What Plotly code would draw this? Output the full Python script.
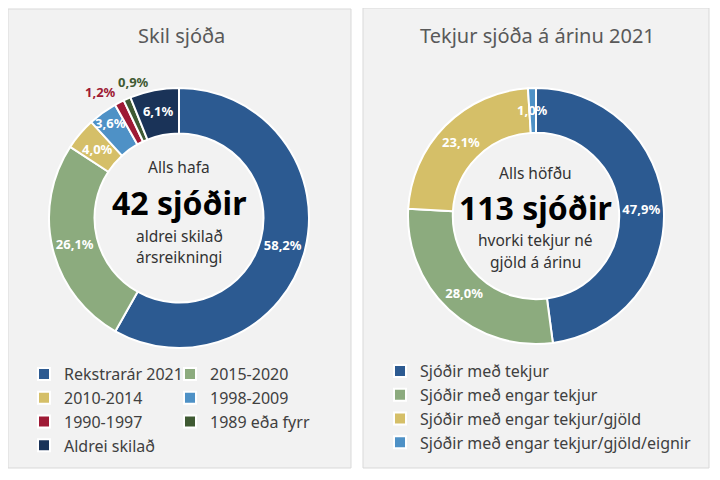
import math
import plotly.graph_objects as go

# the page body has an 8px margin, so the figure is drawn 8px in from the window corner
OFF = 8
W, H = 704, 464
ML = 37  # left margin, leaves room for the left legend to sit left of the plot area

FONT = "Noto Sans"

skil_labels = ["Rekstrarár 2021", "2015-2020", "2010-2014", "1998-2009",
               "1990-1997", "1989 eða fyrr", "Aldrei skilað"]
skil_values = [58.2, 26.1, 4.0, 3.6, 1.2, 0.9, 6.1]
skil_colors = ["#2c5a91", "#8cab7e", "#d5bf68", "#4e91c6",
               "#9e1a35", "#3f5a33", "#1a3358"]
skil_textpos = ["inside", "inside", "none", "inside", "none", "none", "inside"]

tekjur_labels = ["Sjóðir með tekjur", "Sjóðir með engar tekjur",
                 "Sjóðir með engar tekjur/gjöld",
                 "Sjóðir með engar tekjur/gjöld/eignir"]
tekjur_values = [47.9, 28.0, 23.1, 1.0]
tekjur_colors = ["#2c5a91", "#8cab7e", "#d5bf68", "#4e91c6"]
tekjur_textpos = ["inside", "inside", "inside", "none"]

# donut geometry in window pixels
SKIL_C, SKIL_R = (179, 218), 130
TEKJUR_C, TEKJUR_R = (536, 216), 128
HOLE = 0.65


def px_x(x):
    return (x - OFF - ML) / (W - ML)


def px_y(y):
    return (H - (y - OFF)) / H


def dominio(c, r):
    cx, cy = c
    return dict(x=[px_x(cx - r), px_x(cx + r)], y=[px_y(cy + r), px_y(cy - r)])


def punktur(values, i, c, r):
    # mid angle of slice i, clockwise from 12 o'clock
    a = (sum(values[:i]) + values[i] / 2) / sum(values) * 2 * math.pi
    return c[0] + r * math.sin(a), c[1] - r * math.cos(a)


def prosenta(v):
    return f"{v:.1f}%".replace(".", ",")


def texti(x, y, txt, size=15.5, color="#333333", bold=False, **kw):
    d = dict(
        x=px_x(x), y=px_y(y), xref="paper", yref="paper",
        text=txt, showarrow=False, xanchor="center", yanchor="middle",
        font=dict(family=FONT, size=size, color=color,
                  weight="bold" if bold else "normal"),
    )
    d.update(kw)
    return d


fig = go.Figure()

fig.add_trace(go.Pie(
    labels=skil_labels,
    values=skil_values,
    marker=dict(colors=skil_colors, line=dict(color="white", width=2)),
    hole=HOLE,
    sort=False,
    direction="clockwise",
    rotation=0,
    texttemplate="%{value:.1f}%",
    textposition=skil_textpos,
    insidetextorientation="horizontal",
    insidetextfont=dict(family=FONT, size=13, color="white", weight="bold"),
    domain=dominio(SKIL_C, SKIL_R),
    legend="legend",
    automargin=False,
))

fig.add_trace(go.Pie(
    labels=tekjur_labels,
    values=tekjur_values,
    marker=dict(colors=tekjur_colors, line=dict(color="white", width=2)),
    hole=HOLE,
    sort=False,
    direction="clockwise",
    rotation=0,
    texttemplate="%{value:.1f}%",
    textposition=tekjur_textpos,
    insidetextorientation="horizontal",
    insidetextfont=dict(family=FONT, size=13, color="white", weight="bold"),
    domain=dominio(TEKJUR_C, TEKJUR_R),
    legend="legend2",
    automargin=False,
))

# labels for the thin slices, placed from the slice angles
mid_skil = SKIL_R * (1 + HOLE) / 2
mid_tekjur = TEKJUR_R * (1 + HOLE) / 2
litlir = []
x, y = punktur(skil_values, 2, SKIL_C, mid_skil)
litlir.append(texti(x, y, prosenta(skil_values[2]), size=13, color="white", bold=True))
x, y = punktur(skil_values, 4, SKIL_C, SKIL_R)
litlir.append(texti(x, y, prosenta(skil_values[4]), size=13, color=skil_colors[4],
                    bold=True, xanchor="right", yanchor="bottom", xshift=-1))
x, y = punktur(skil_values, 5, SKIL_C, SKIL_R)
litlir.append(texti(x, y, prosenta(skil_values[5]), size=13, color=skil_colors[5],
                    bold=True, yanchor="bottom", xshift=6, yshift=6))
x, y = punktur(tekjur_values, 3, TEKJUR_C, mid_tekjur)
litlir.append(texti(x, y, prosenta(tekjur_values[3]), size=13, color="white", bold=True))

panel = dict(type="rect", xref="paper", yref="paper", layer="below",
             fillcolor="#f2f2f2", line=dict(color="#d9d9d9", width=1))

fig.update_layout(
    width=W,
    height=H,
    margin=dict(l=ML, r=0, t=0, b=0, autoexpand=False),
    paper_bgcolor="white",
    plot_bgcolor="white",
    separators=",.",
    font=dict(family=FONT, color="#404040"),
    uniformtext=dict(mode="show", minsize=13),
    shapes=[
        dict(panel, x0=px_x(8), x1=px_x(351), y0=px_y(468), y1=px_y(9)),
        dict(panel, x0=px_x(363), x1=px_x(709), y0=px_y(468), y1=px_y(8)),
    ],
    annotations=[
        texti(181, 36, "Skil sjóða", size=20, color="#595959"),
        texti(537, 35, "Tekjur sjóða á árinu 2021", size=20, color="#595959"),
        texti(179, 167, "Alls hafa"),
        texti(179, 203, "42 sjóðir", size=32, color="black", bold=True),
        texti(179, 236, "aldrei skilað"),
        texti(179, 257, "ársreikningi"),
        texti(535, 173, "Alls höfðu"),
        texti(535, 207, "113 sjóðir", size=32, color="black", bold=True),
        texti(535, 240, "hvorki tekjur né"),
        texti(535, 262, "gjöld á árinu"),
    ] + litlir,
    legend=dict(
        orientation="h",
        x=px_x(24), xanchor="left",
        y=px_y(357), yanchor="top",
        entrywidth=101, entrywidthmode="pixels",
        font=dict(family=FONT, size=16, color="#404040"),
        bgcolor="rgba(0,0,0,0)",
        traceorder="normal",
    ),
    legend2=dict(
        orientation="v",
        x=px_x(380), xanchor="left",
        y=px_y(354), yanchor="top",
        font=dict(family=FONT, size=16, color="#404040"),
        bgcolor="rgba(0,0,0,0)",
        traceorder="normal",
    ),
)

fig.write_html("out.html")
